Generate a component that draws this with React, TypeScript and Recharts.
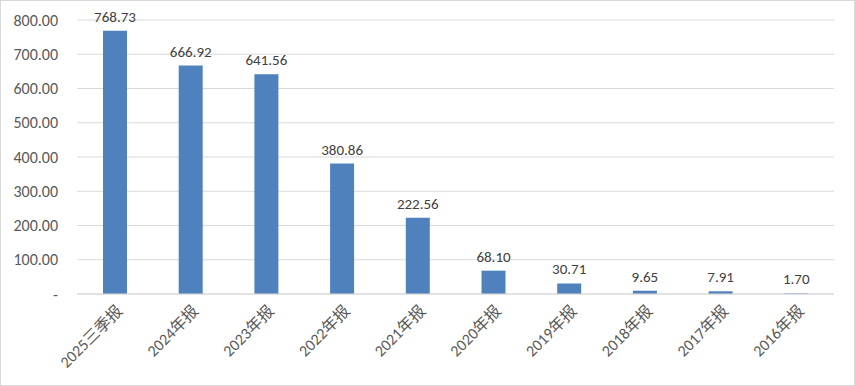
import { BarChart, Bar, XAxis, YAxis, CartesianGrid, LabelList } from "recharts";

const periods = [
  "2025三季报",
  "2024年报",
  "2023年报",
  "2022年报",
  "2021年报",
  "2020年报",
  "2019年报",
  "2018年报",
  "2017年报",
  "2016年报",
];
const values = [768.73, 666.92, 641.56, 380.86, 222.56, 68.1, 30.71, 9.65, 7.91, 1.7];
const yTicks = [0, 100, 200, 300, 400, 500, 600, 700, 800];

const data = periods.map((period, i) => ({ period, value: values[i] }));

const font = "Calibri, Carlito, 'Noto Sans CJK SC', 'Liberation Sans', sans-serif";

function XTick(props: any) {
  const { x, y, payload } = props;
  return (
    <g transform={`translate(${x + 6},${y + 7})`}>
      <text
        x={0}
        y={0}
        dy={4}
        textAnchor="end"
        fill="#595959"
        fontSize={16}
        fontFamily={font}
        transform="rotate(-45)"
      >
        {payload.value}
      </text>
    </g>
  );
}

export default function App() {
  return (
    <div
      style={{
        position: "absolute",
        left: 0,
        top: 0,
        width: 853,
        height: 384,
        border: "1px solid #d9d9d9",
        background: "#fff",
      }}
    >
      <BarChart
        width={853}
        height={384}
        data={data}
        margin={{ top: 19, right: 20, bottom: 0, left: 0 }}
      >
        <CartesianGrid vertical={false} stroke="#d9d9d9" />
        <XAxis
          dataKey="period"
          axisLine={{ stroke: "#d9d9d9" }}
          tickLine={false}
          interval={0}
          height={91}
          tick={<XTick />}
        />
        <YAxis
          width={76}
          domain={[0, 800]}
          ticks={yTicks}
          axisLine={false}
          tickLine={false}
          tickMargin={13}
          tickFormatter={(v: number) => (v === 0 ? "-" : v.toFixed(2))}
          tick={{ fontSize: 16, fill: "#595959", fontFamily: font }}
        />
        <Bar dataKey="value" fill="#4f81bd" barSize={24} isAnimationActive={false}>
          <LabelList
            dataKey="value"
            position="top"
            offset={9}
            formatter={(v: any) => Number(v).toFixed(2)}
            style={{ fontSize: 15, fill: "#404040", fontFamily: font }}
          />
        </Bar>
      </BarChart>
    </div>
  );
}
